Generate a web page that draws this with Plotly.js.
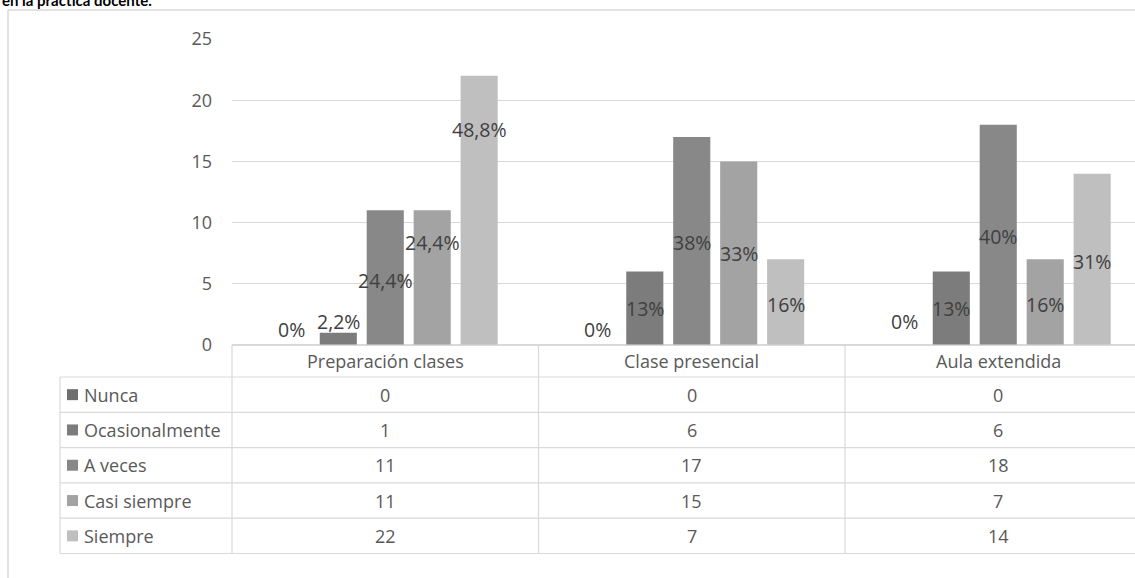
<!DOCTYPE html>
<html>
<head>
<meta charset="utf-8">
<script src="https://cdn.plot.ly/plotly-3.0.1.min.js"></script>
<style>html,body{margin:0;padding:0;background:#fff;}#chart{width:1135px;height:578px;}</style>
</head>
<body>
<div id="chart"></div>
<script>
// ---- data ----
var categories = ["Preparación clases", "Clase presencial", "Aula extendida"];
var seriesNames = ["Nunca", "Ocasionalmente", "A veces", "Casi siempre", "Siempre"];
var nunca          = [0, 0, 0];
var ocasionalmente = [1, 6, 6];
var aVeces         = [11, 17, 18];
var casiSiempre    = [11, 15, 7];
var siempre        = [22, 7, 14];
var pctNunca          = ["0%", "0%", "0%"];
var pctOcasionalmente = ["2,2%", "13%", "13%"];
var pctAVeces         = ["24,4%", "38%", "40%"];
var pctCasiSiempre    = ["24,4%", "33%", "16%"];
var pctSiempre        = ["48,8%", "16%", "31%"];
var titleText = "en la práctica docente.";

// ---- styling / placement ----
var colors = ["#6f6f6f", "#7c7c7c", "#888888", "#a3a3a3", "#bfbfbf"];
// where each percentage label sits (in axis units), as placed in the original chart
var labelPosNunca          = [1.25, 1.25, 1.95];
var labelPosOcasionalmente = [1.9, 2.95, 2.95];
var labelPosAVeces         = [5.3, 8.35, 8.9];
var labelPosCasiSiempre    = [8.4, 7.45, 3.35];
var labelPosSiempre        = [17.6, 3.35, 6.85];

var allValues = [nunca, ocasionalmente, aVeces, casiSiempre, siempre];
var allPct = [pctNunca, pctOcasionalmente, pctAVeces, pctCasiSiempre, pctSiempre];
var allLabelPos = [labelPosNunca, labelPosOcasionalmente, labelPosAVeces, labelPosCasiSiempre, labelPosSiempre];

var W = 1135, H = 578;
var mL = 232, mR = 0, mT = 39, mB = 233;
var plotW = W - mL - mR, plotH = H - mT - mB;
var catWidthPx = 306.5;
var xRange = [-0.5, -0.5 + plotW / catWidthPx];
var bargap = 0.234, bargroupgap = 0.21;
var slot = (1 - bargap) / seriesNames.length;

var FONT = "'Open Sans', Lato, sans-serif";
var TXT = "#595959";
var GRID = "#d9d9d9";

function pxX(px) { return (px - mL) / plotW; }
function pxY(py) { return (H - mB - py) / plotH; }
function catToPaper(c) { return (c - xRange[0]) / (xRange[1] - xRange[0]); }

var traces = seriesNames.map(function (name, i) {
  return {
    type: "bar",
    name: name,
    x: categories,
    y: allValues[i],
    marker: { color: colors[i], line: { width: 0 } },
    hoverinfo: "x+y+name"
  };
});

var annotations = [];
var shapes = [];

// percentage labels
seriesNames.forEach(function (name, i) {
  categories.forEach(function (cat, c) {
    annotations.push({
      xref: "x", yref: "y",
      x: c + (i - (seriesNames.length - 1) / 2) * slot,
      y: allLabelPos[i][c],
      text: allPct[i][c],
      showarrow: false,
      font: { family: FONT, size: 19.5, color: "#404040" },
      xanchor: "center", yanchor: "middle"
    });
  });
});

// chart outer border (top and left)
shapes.push({ type: "line", xref: "paper", yref: "paper", x0: pxX(8), x1: pxX(W), y0: pxY(10), y1: pxY(10), line: { color: GRID, width: 1.5 } });
shapes.push({ type: "line", xref: "paper", yref: "paper", x0: pxX(8), x1: pxX(8), y0: pxY(10), y1: pxY(H), line: { color: GRID, width: 1.5 } });

// title fragment at the top edge
annotations.push({
  xref: "paper", yref: "paper", x: pxX(0), y: pxY(11),
  xanchor: "left", yanchor: "bottom", showarrow: false,
  text: "<b>" + titleText + "</b>",
  font: { family: "Lato, sans-serif", size: 15, color: "#000000" }
});

// data table
var headerTop = 345, headerBot = 377;
var rowH = 35.3;
var tableLeft = 60, tableBottom = headerBot + rowH * seriesNames.length;
shapes.push({ type: "line", xref: "paper", yref: "paper", x0: pxX(mL), x1: 1, y0: pxY(headerTop), y1: pxY(headerTop), line: { color: GRID, width: 1.2 } });
for (var r = 0; r <= seriesNames.length; r++) {
  var yy = headerBot + r * rowH;
  shapes.push({ type: "line", xref: "paper", yref: "paper", x0: pxX(tableLeft), x1: 1, y0: pxY(yy), y1: pxY(yy), line: { color: GRID, width: 1.2 } });
}
for (var c = 0; c < categories.length; c++) {
  var xb = catToPaper(c - 0.5);
  shapes.push({ type: "line", xref: "paper", yref: "paper", x0: xb, x1: xb, y0: pxY(headerTop), y1: pxY(tableBottom), line: { color: GRID, width: 1.2 } });
}
shapes.push({ type: "line", xref: "paper", yref: "paper", x0: pxX(tableLeft), x1: pxX(tableLeft), y0: pxY(headerBot), y1: pxY(tableBottom), line: { color: GRID, width: 1.2 } });

// header labels
categories.forEach(function (cat, c) {
  annotations.push({
    xref: "x", yref: "paper", x: c, y: pxY((headerTop + headerBot) / 2),
    text: cat, showarrow: false, xanchor: "center", yanchor: "middle",
    font: { family: FONT, size: 18, color: TXT }
  });
});
// rows
seriesNames.forEach(function (name, i) {
  var cy = headerBot + (i + 0.5) * rowH;
  shapes.push({ type: "rect", xref: "paper", yref: "paper", x0: pxX(67), x1: pxX(78), y0: pxY(cy - 5.5), y1: pxY(cy + 5.5), fillcolor: colors[i], line: { width: 0 } });
  annotations.push({
    xref: "paper", yref: "paper", x: pxX(82), y: pxY(cy),
    text: name, showarrow: false, xanchor: "left", yanchor: "middle",
    font: { family: FONT, size: 18, color: TXT }
  });
  categories.forEach(function (cat, c) {
    annotations.push({
      xref: "x", yref: "paper", x: c, y: pxY(cy),
      text: String(allValues[i][c]), showarrow: false, xanchor: "center", yanchor: "middle",
      font: { family: FONT, size: 18, color: TXT }
    });
  });
});

var layout = {
  width: W, height: H,
  margin: { l: mL, r: mR, t: mT, b: mB, pad: 0 },
  paper_bgcolor: "#ffffff", plot_bgcolor: "#ffffff",
  barmode: "group", bargap: bargap, bargroupgap: bargroupgap,
  showlegend: false,
  xaxis: {
    type: "category", categoryarray: categories, range: xRange,
    showticklabels: false, showgrid: false, zeroline: false, showline: false, ticks: "", fixedrange: true
  },
  yaxis: {
    range: [0, 25], dtick: 5, tick0: 0,
    gridcolor: GRID, gridwidth: 1.2,
    zeroline: true, zerolinecolor: GRID, zerolinewidth: 1.2,
    showline: false, ticks: "", ticklabelstandoff: 19,
    tickfont: { family: FONT, size: 18, color: TXT }, fixedrange: true
  },
  annotations: annotations,
  shapes: shapes
};

Plotly.newPlot("chart", traces, layout, { displayModeBar: false, staticPlot: true });
</script>
</body>
</html>
